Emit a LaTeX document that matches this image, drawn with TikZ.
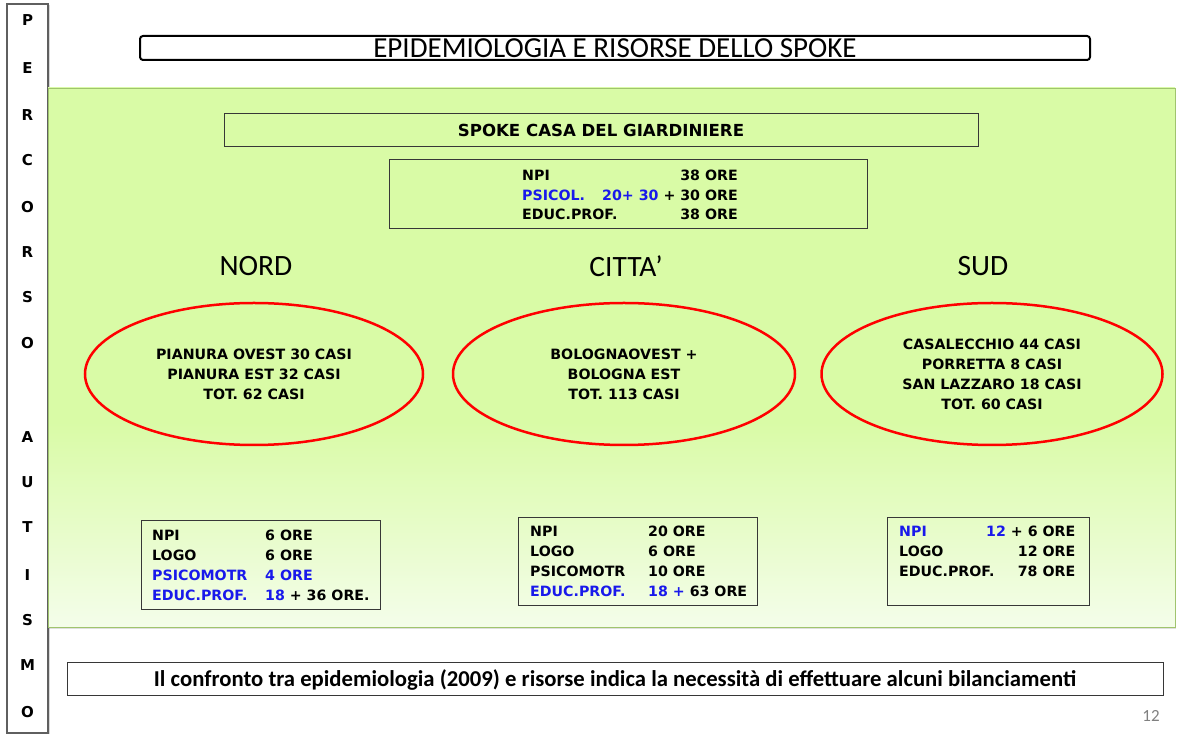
\documentclass[tikz,border=0pt]{standalone}
\usepackage{fontspec}
\setmainfont{Carlito}
\newfontfamily\verdfont{DejaVu Sans Bold}
\usetikzlibrary{shapes.geometric, shadows}
\definecolor{panelgreen}{RGB}{217,251,166}
\definecolor{panelpale}{RGB}{244,253,234}
\definecolor{panelline}{RGB}{160,196,110}
\definecolor{textblue}{RGB}{25,25,235}
\definecolor{framegray}{RGB}{55,55,55}
\pgfdeclareverticalshading{panelfade}{100bp}{color(0bp)=(panelpale); color(25bp)=(panelpale); color(44bp)=(panelgreen); color(100bp)=(panelgreen)}
\begin{document}
\begin{tikzpicture}[
  box/.style={draw=framegray, line width=1bp, inner sep=0pt},
  zone/.style={ellipse, draw=red, line width=2.5bp, inner sep=0pt, minimum height=142bp, align=center, font=\verdfont\fontsize{14.2bp}{20bp}\selectfont},
  boldtxt/.style={font=\verdfont\fontsize{14.2bp}{19.7bp}\selectfont, inner sep=0pt},
  area/.style={font=\fontsize{29.5bp}{32bp}\selectfont, inner sep=0pt},
  letter/.style={font=\verdfont\fontsize{15bp}{16bp}\selectfont, inner sep=0pt},
]
\path[fill=white] (0,0) rectangle (1177bp,736bp);
\useasboundingbox (0,0) rectangle (1177bp,736bp);
%%
\node (node_bar) at (27.5bp,367.5bp) [box,draw=framegray!80,line width=1.5bp,fill=white,minimum width=41bp,minimum height=729bp,drop shadow={opacity=0.3,shadow xshift=2bp,shadow yshift=-1bp}] {};
\foreach \ch/\yy [count=\i] in {P/716,E/668,R/621,C/576,O/529,R/484,S/439,O/393,A/299,U/254,T/209,I/161,S/116,M/71,O/24}
  \node (node_l\i) at (27.5bp,\yy bp) [letter] {\ch};
\node (node_title) at (615bp,688bp) [box,draw=black,line width=2bp,rounded corners=3bp,minimum width=950bp,minimum height=24bp,font=\fontsize{29bp}{30bp}\selectfont] {EPIDEMIOLOGIA E RISORSE DELLO SPOKE};
\node (node_panel) at (611.5bp,378.5bp) [box,draw=panelline,line width=0.8bp,shading=panelfade,minimum width=1127bp,minimum height=539bp,drop shadow={opacity=0.25,shadow xshift=1bp,shadow yshift=-2.5bp}] {};
%%
\node (node_spoke) at (601bp,605.5bp) [box,minimum width=754bp,minimum height=33bp,font=\verdfont\fontsize{16.6bp}{18bp}\selectfont] {SPOKE CASA DEL GIARDINIERE};
\node (node_risorse) at (628bp,541.5bp) [box,minimum width=478bp,minimum height=69bp] {};
\node (node_risorse_ore) at (522bp,555bp) [boldtxt,anchor=base west,font=\verdfont\fontsize{14.2bp}{19.5bp}\selectfont] {\begin{tabular}[t]{@{}p{80bp}@{}r@{}}
NPI & 38 ORE\\
\textcolor{textblue}{PSICOL.} & \textcolor{textblue}{20+ 30} + 30 ORE\\
EDUC.PROF. & 38 ORE
\end{tabular}};
%%
\node (node_nord) at (256bp,470bp) [area] {NORD};
\node (node_citta) at (626bp,470bp) [area] {CITTA’};
\node (node_sud) at (983bp,470bp) [area] {SUD};
\node (node_zona_nord) at (254bp,362bp) [zone,minimum width=338bp] {PIANURA OVEST 30 CASI\\PIANURA EST 32 CASI\\TOT. 62 CASI};
\node (node_zona_citta) at (624bp,362bp) [zone,minimum width=342bp] {BOLOGNAOVEST +\\BOLOGNA EST\\TOT. 113 CASI};
\node (node_zona_sud) at (992bp,362bp) [zone,minimum width=341bp] {CASALECCHIO 44 CASI\\PORRETTA 8 CASI\\SAN LAZZARO 18 CASI\\TOT. 60 CASI};
%%
\node (node_box_nord) at (260.5bp,170.5bp) [box,minimum width=239bp,minimum height=89bp] {};
\node (node_ore_nord) at (152bp,195bp) [boldtxt,anchor=base west] {\begin{tabular}[t]{@{}p{113bp}@{}l@{}}
NPI & 6 ORE\\
LOGO & 6 ORE\\
\textcolor{textblue}{PSICOMOTR} & \textcolor{textblue}{4 ORE}\\
\textcolor{textblue}{EDUC.PROF.} & \textcolor{textblue}{18} + 36 ORE.
\end{tabular}};
\node (node_box_citta) at (637.5bp,174bp) [box,minimum width=239bp,minimum height=88bp] {};
\node (node_ore_citta) at (530bp,199bp) [boldtxt,anchor=base west] {\begin{tabular}[t]{@{}p{118bp}@{}l@{}}
NPI & 20 ORE\\
LOGO & 6 ORE\\
PSICOMOTR & 10 ORE\\
\textcolor{textblue}{EDUC.PROF.} & \textcolor{textblue}{18 +} 63 ORE
\end{tabular}};
\node (node_box_sud) at (988bp,174bp) [box,minimum width=202bp,minimum height=88bp] {};
\node (node_ore_sud) at (899bp,199bp) [boldtxt,anchor=base west] {\begin{tabular}[t]{@{}p{87bp}@{}r@{}}
\textcolor{textblue}{NPI} & \textcolor{textblue}{12} + 6 ORE\\
LOGO & 12 ORE\\
EDUC.PROF. & 78 ORE
\end{tabular}};
%%
\node (node_nota) at (615bp,56.5bp) [box,minimum width=1096bp,minimum height=33bp,font=\bfseries\fontsize{22.7bp}{24bp}\selectfont] {Il confronto tra epidemiologia (2009) e risorse indica la necessità di effettuare alcuni bilanciamenti};
\node (node_pagina) at (1151bp,20bp) [text=gray,font=\fontsize{17bp}{18bp}\selectfont] {12};
%
\end{tikzpicture}
\end{document}
